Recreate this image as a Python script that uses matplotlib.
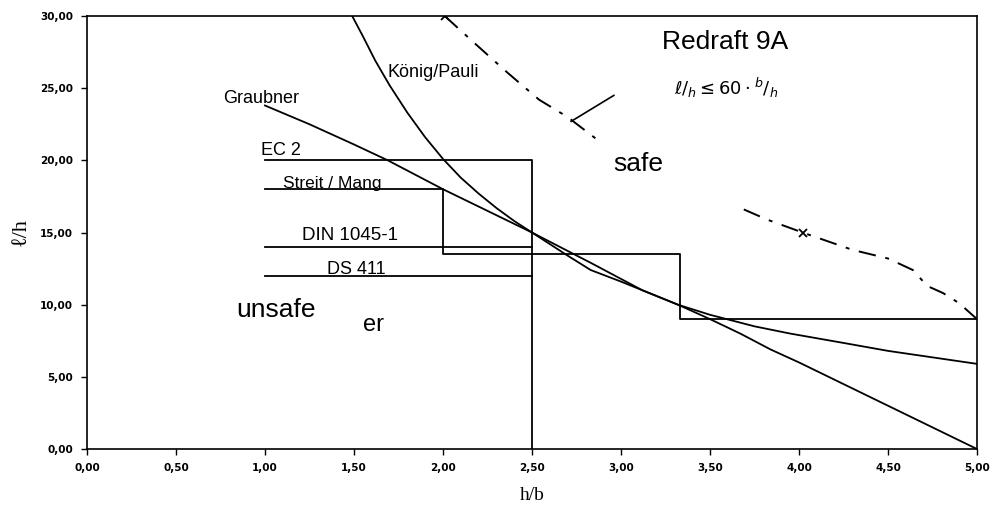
import numpy as np
import matplotlib.pyplot as plt

# curves (x = h/b, y = l/h)
graubner_x = [1.0, 1.25, 1.5, 1.69, 2.0, 2.25, 2.5, 2.83, 3.12, 3.32, 3.5, 3.75, 3.95, 4.25, 4.5, 4.75, 5.0]
graubner_y = [23.8, 22.5, 21.1, 20.0, 18.0, 16.5, 15.0, 12.9, 11.0, 10.0, 9.3, 8.5, 8.0, 7.35, 6.8, 6.35, 5.9]

koenig_x = [1.49, 1.55, 1.62, 1.7, 1.8, 1.9, 2.0, 2.1, 2.2, 2.3, 2.4, 2.5,
            2.7, 2.83, 3.0, 3.12, 3.32, 3.5, 3.67, 3.84, 4.0, 4.25, 4.5, 4.75, 5.0]
koenig_y = [30.0, 28.6, 26.9, 25.2, 23.3, 21.6, 20.1, 18.8, 17.7, 16.7, 15.8, 15.0,
            13.4, 12.4, 11.6, 11.0, 10.0, 9.0, 8.0, 6.9, 6.0, 4.5, 3.0, 1.5, 0.0]

ec2_x = [1.0, 2.5, 2.5]
ec2_y = [20.0, 20.0, 0.0]
streit_x = [1.0, 2.0, 2.0, 3.33, 3.33, 5.0]
streit_y = [18.0, 18.0, 13.5, 13.5, 9.0, 9.0]
din_x = [1.0, 2.5]
din_y = [14.0, 14.0]
ds411_x = [1.0, 2.5]
ds411_y = [12.0, 12.0]

# hand-drawn Redraft 9A line (two pieces) and its crosses
redraft1_x = [2.01, 2.17, 2.36, 2.54, 2.7, 2.87]
redraft1_y = [30.0, 28.2, 26.1, 24.2, 23.0, 21.4]
redraft2_x = [3.69, 3.82, 4.02, 4.3, 4.5, 4.64, 4.72, 4.81, 4.9, 5.0]
redraft2_y = [16.6, 15.9, 15.0, 13.8, 13.2, 12.4, 11.3, 10.8, 10.1, 9.0]
cross_x = [2.01, 4.02]
cross_y = [30.0, 15.0]
pointer_x = [2.72, 2.96]
pointer_y = [22.7, 24.5]

xticks = np.arange(0, 5.01, 0.5)
yticks = np.arange(0, 30.01, 5)

fig = plt.figure(figsize=(9.95, 5.08), dpi=100)
ax = fig.add_axes([0.0874, 0.1161, 0.8945, 0.8524])

lw = 1.3
ax.plot(graubner_x, graubner_y, 'k-', lw=lw)
ax.plot(koenig_x, koenig_y, 'k-', lw=lw)
ax.plot(ec2_x, ec2_y, 'k-', lw=lw)
ax.plot(streit_x, streit_y, 'k-', lw=lw)
ax.plot(din_x, din_y, 'k-', lw=lw)
ax.plot(ds411_x, ds411_y, 'k-', lw=lw)

dash = (0, (9, 5, 2, 5))
ax.plot(redraft1_x, redraft1_y, 'k', lw=1.4, linestyle=dash)
ax.plot(redraft2_x, redraft2_y, 'k', lw=1.4, linestyle=dash)
ax.plot(cross_x, cross_y, 'kx', ms=6, mew=1.3)
ax.plot(pointer_x, pointer_y, 'k-', lw=1.2)

ax.set_xlim(0, 5)
ax.set_ylim(0, 30)
ax.set_xticks(xticks)
ax.set_yticks(yticks)
ax.set_xticklabels([f'{v:.2f}'.replace('.', ',') for v in xticks])
ax.set_yticklabels([f'{v:.2f}'.replace('.', ',') for v in yticks])
ax.tick_params(direction='out', length=4, width=1, pad=6, labelsize=7.5)
for lab in ax.get_xticklabels() + ax.get_yticklabels():
    lab.set_fontweight('bold')
for s in ax.spines.values():
    s.set_linewidth(1.2)

sans = 'Liberation Sans'
ax.text(0.764, 24.25, 'Graubner', fontsize=13, family=sans, ha='left', va='center')
ax.text(1.69, 26.1, 'König/Pauli', fontsize=13, family=sans, ha='left', va='center')
ax.text(0.98, 20.35, 'EC 2', fontsize=13, family=sans, ha='left', va='baseline')
ax.text(1.10, 18.1, 'Streit / Mang', fontsize=12.5, family=sans, ha='left', va='baseline')
ax.text(1.21, 14.5, 'DIN 1045-1', fontsize=13.5, family=sans, ha='left', va='baseline')
ax.text(1.35, 12.1, 'DS 411', fontsize=13, family=sans, ha='left', va='baseline')

ax.text(3.23, 28.2, 'Redraft 9A', fontsize=19, family=sans, ha='left', va='center')
ax.text(2.955, 19.75, 'safe', fontsize=19, family=sans, ha='left', va='center')
ax.text(0.84, 9.6, 'unsafe', fontsize=19, family=sans, ha='left', va='center')
ax.text(1.55, 8.6, 'er', fontsize=17, family=sans, ha='left', va='center')
ax.text(3.30, 25.0, r'$\ell/_{h} \leq 60\cdot{}^{b}/_{h}$', fontsize=13,
        ha='left', va='center')

ax.set_xlabel('h/b', fontsize=14, family=['Liberation Serif', 'DejaVu Sans'], labelpad=10)
ax.set_ylabel('ℓ/h', fontsize=16, family=['Liberation Serif', 'DejaVu Sans'], labelpad=7)

plt.savefig('out.png', dpi=100)
